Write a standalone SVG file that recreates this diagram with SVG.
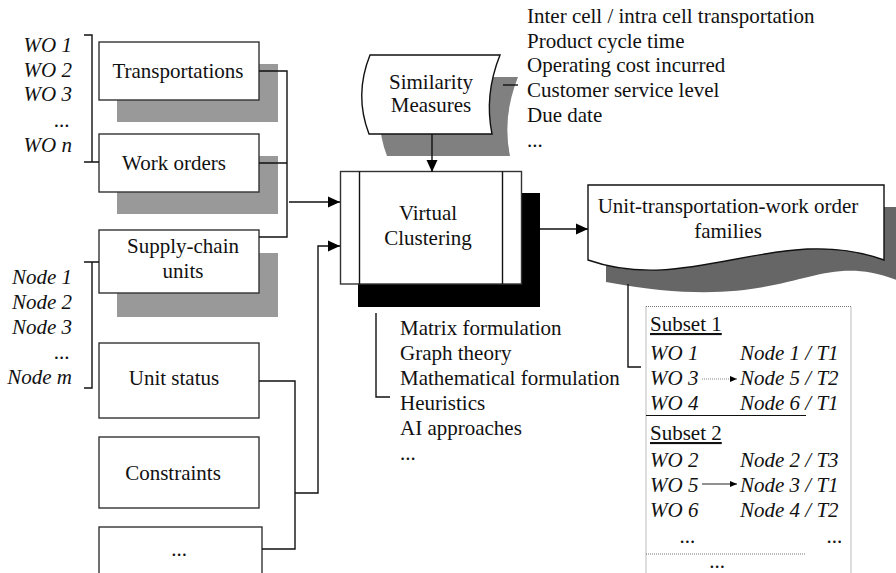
<svg xmlns="http://www.w3.org/2000/svg" width="896" height="573" viewBox="0 0 896 573">
<defs>
<style>
text{font-family:"Liberation Serif","Times New Roman",serif;font-size:21px;fill:#111}
.it{font-style:italic}
.mid{text-anchor:middle}
.end{text-anchor:end}
.box{fill:#fff;stroke:#333;stroke-width:1.4}
.sh{fill:#999}
.ln{fill:none;stroke:#111;stroke-width:1.4}
.thin{fill:none;stroke:#222;stroke-width:1}
.dot{fill:none;stroke:#777;stroke-width:1;stroke-dasharray:1 1}
.ul{text-decoration:underline}
</style>
<marker id="ah" markerUnits="userSpaceOnUse" markerWidth="12" markerHeight="12" viewBox="0 0 12 12" refX="12" refY="6" orient="auto">
<path d="M0,0.5 L12,6 L0,11.5 Z" fill="#000"/>
</marker>
<marker id="sa" markerUnits="userSpaceOnUse" markerWidth="7" markerHeight="6" viewBox="0 0 7 6" refX="7" refY="3" orient="auto">
<path d="M0,0 L7,3 L0,6 Z" fill="#000"/>
</marker>
</defs>

<g id="wo-list">
<text class="it end" x="72" y="52">WO 1</text>
<text class="it end" x="72" y="77">WO 2</text>
<text class="it end" x="72" y="101">WO 3</text>
<text class="it end" x="70" y="127">...</text>
<text class="it end" x="72" y="152">WO n</text>
</g>
<g id="node-list">
<text class="it end" x="72" y="284">Node 1</text>
<text class="it end" x="72" y="309">Node 2</text>
<text class="it end" x="72" y="334">Node 3</text>
<text class="it end" x="70" y="359">...</text>
<text class="it end" x="72" y="384">Node m</text>
</g>

<g id="transportations">
<rect class="sh" x="117" y="64" width="161" height="58"/>
<rect class="box" x="99" y="42" width="160" height="58"/>
<text class="mid" x="178" y="78">Transportations</text>
</g>
<g id="work-orders">
<rect class="sh" x="117" y="156" width="161" height="58"/>
<rect class="box" x="99" y="134" width="160" height="58"/>
<text class="mid" x="174" y="170">Work orders</text>
</g>
<g id="supply-chain-units">
<rect class="sh" x="117" y="253" width="161" height="64"/>
<rect class="box" x="99" y="230" width="160" height="63"/>
<text class="mid" x="183" y="253">Supply-chain</text>
<text class="mid" x="183" y="278">units</text>
</g>
<g id="unit-status">
<rect class="box" x="99" y="343" width="160" height="75"/>
<text class="mid" x="174" y="385">Unit status</text>
</g>
<g id="constraints">
<rect class="box" x="99" y="437" width="160" height="71"/>
<text class="mid" x="173" y="480">Constraints</text>
</g>
<g id="more-inputs">
<rect class="box" x="99" y="527" width="163" height="60"/>
<text class="mid" x="179" y="556">...</text>
</g>

<g id="similarity-measures">
<path d="M388,77 L518,77 Q502,117 510,156 L387,156 Q372,117 388,77 Z" fill="#808080"/>
<path d="M370,55 L500,55 Q484,95 492,134 L369,134 Q354,95 370,55 Z" fill="#fff" stroke="#111" stroke-width="1.4"/>
<text class="mid" x="431" y="89">Similarity</text>
<text class="mid" x="431" y="112">Measures</text>
</g>
<g id="similarity-criteria">
<text x="527" y="23">Inter cell / intra cell transportation</text>
<text x="527" y="48">Product cycle time</text>
<text x="527" y="72">Operating cost incurred</text>
<text x="527" y="97">Customer service level</text>
<text x="527" y="122">Due date</text>
<text x="527" y="147">...</text>
</g>

<g id="virtual-clustering">
<rect x="358" y="193" width="182" height="114" fill="#000"/>
<rect class="box" x="340.5" y="171.5" width="181" height="112.5" stroke="#111"/>
<line class="ln" x1="359.5" y1="171.5" x2="359.5" y2="284"/>
<line class="ln" x1="502.5" y1="171.5" x2="502.5" y2="284"/>
<text class="mid" x="428" y="220">Virtual</text>
<text class="mid" x="428" y="245">Clustering</text>
</g>
<g id="methods">
<text x="400" y="335">Matrix formulation</text>
<text x="400" y="360">Graph theory</text>
<text x="400" y="385">Mathematical formulation</text>
<text x="400" y="410">Heuristics</text>
<text x="400" y="435">AI approaches</text>
<text x="400" y="460">...</text>
</g>

<g id="families">
<path d="M606,207 L902,207 L902,282 C808,244 798,318 606,282 Z" fill="#666"/>
<path d="M588,185 L884,185 L884,260 C780,222 690,296 588,260 Z" fill="#fff" stroke="#111" stroke-width="1.4"/>
<text class="mid" x="728" y="213">Unit-transportation-work order</text>
<text class="mid" x="728" y="238">families</text>
</g>

<g id="subsets">
<path class="dot" d="M646,306.5 H851 V580 M646,306.5 V580"/>
<text class="ul" x="650" y="331">Subset 1</text>
<text class="it" x="650" y="360">WO 1</text>
<text class="it" x="740" y="360">Node 1 / T1</text>
<text class="it" x="650" y="385">WO 3</text>
<text class="it" x="740" y="385">Node 5 / T2</text>
<text class="it" x="650" y="410">WO 4</text>
<text class="it" x="740" y="410">Node 6 / T1</text>
<line x1="646" y1="415.5" x2="806" y2="415.5" stroke="#111" stroke-width="1.2"/>
<text class="ul" x="650" y="440">Subset 2</text>
<text class="it" x="650" y="467">WO 2</text>
<text class="it" x="740" y="467">Node 2 / T3</text>
<text class="it" x="650" y="492">WO 5</text>
<text class="it" x="740" y="492">Node 3 / T1</text>
<text class="it" x="650" y="517">WO 6</text>
<text class="it" x="740" y="517">Node 4 / T2</text>
<text class="it" x="680" y="543">...</text>
<text class="it" x="827" y="543">...</text>
<line class="dot" x1="646" y1="554" x2="806" y2="554"/>
<text class="mid" x="717" y="568">...</text>
<line x1="702" y1="379" x2="737" y2="379" stroke="#888" stroke-width="1" stroke-dasharray="1 1" marker-end="url(#sa)"/>
<line x1="702" y1="484" x2="737" y2="484" stroke="#222" stroke-width="1" marker-end="url(#sa)"/>
</g>

<g id="connectors">
<path class="ln" d="M84,35 H92 V162 M84,162 H99"/>
<path class="ln" d="M84,262 H99 M92,262 V388 H84"/>
<path class="ln" d="M259,71 H287 V237 H259 M259,163 H287"/>
<path class="ln" d="M289,202 H340" marker-end="url(#ah)"/>
<path class="ln" d="M259,381 H295 V549 H262 M295,493 H318 V246 H340" marker-end="url(#ah)"/>
<path class="ln" d="M432,134 V172" marker-end="url(#ah)"/>
<path class="ln" d="M503,85 H518"/>
<path class="ln" d="M540,229 H588" marker-end="url(#ah)"/>
<path class="ln" d="M376,313 V397 H390"/>
<path class="ln" d="M628,284 V367 H641"/>
</g>
</svg>
